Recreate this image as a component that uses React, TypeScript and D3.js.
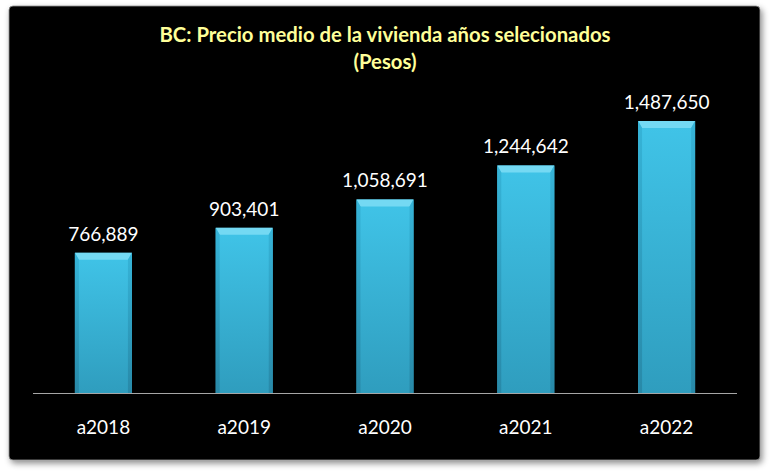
import { useEffect, useRef } from 'react';
import * as d3 from 'd3';

const categories = ['a2018', 'a2019', 'a2020', 'a2021', 'a2022'];
const values = [766889, 903401, 1058691, 1244642, 1487650];
const titleLines = ['BC: Precio medio de la vivienda años selecionados', '(Pesos)'];

const W = 770;
const H = 474;
const FONT = 'Lato, "Open Sans", sans-serif';

export default function App() {
  const svgRef = useRef<SVGSVGElement>(null);

  useEffect(() => {
    if (!svgRef.current) return;
    const svg = d3.select(svgRef.current);
    svg.selectAll('*').remove();

    const defs = svg.append('defs');

    // drop shadow for the chart box
    const filt = defs.append('filter').attr('id', 'shadow')
      .attr('x', '-5%').attr('y', '-5%').attr('width', '110%').attr('height', '112%');
    filt.append('feDropShadow')
      .attr('dx', 2).attr('dy', 3).attr('stdDeviation', 3)
      .attr('flood-color', '#000').attr('flood-opacity', 0.45);

    const barGrad = defs.append('linearGradient').attr('id', 'barGrad')
      .attr('x1', 0).attr('y1', 0).attr('x2', 0).attr('y2', 1);
    barGrad.append('stop').attr('offset', '0%').attr('stop-color', '#40c4e8');
    barGrad.append('stop').attr('offset', '100%').attr('stop-color', '#2f9dbe');

    const sideGrad = defs.append('linearGradient').attr('id', 'sideGrad')
      .attr('x1', 0).attr('y1', 0).attr('x2', 0).attr('y2', 1);
    sideGrad.append('stop').attr('offset', '0%').attr('stop-color', '#36b4d8');
    sideGrad.append('stop').attr('offset', '100%').attr('stop-color', '#2889a8');

    // chart box
    svg.append('rect')
      .attr('x', 9).attr('y', 6)
      .attr('width', 751).attr('height', 454)
      .attr('rx', 4)
      .attr('fill', '#060606')
      .attr('stroke', '#8a8a8a')
      .attr('stroke-width', 0.8)
      .attr('filter', 'url(#shadow)');

    // title
    const title = svg.append('text')
      .attr('text-anchor', 'middle')
      .attr('font-family', FONT)
      .attr('font-weight', 'bold')
      .attr('font-size', 20.3)
      .attr('fill', '#ffff99');
    titleLines.forEach((t, i) => {
      title.append('tspan').attr('x', W / 2).attr('y', 42 + i * 27).text(t);
    });

    const x = d3.scaleBand<string>()
      .domain(categories)
      .range([33, 737])
      .paddingInner(0.595)
      .paddingOuter(0.2975);

    const y = d3.scaleLinear().domain([0, 1600000]).range([393, 100.5]);

    const bw = x.bandwidth();
    const topBevel = 7;
    const sideBevel = 4;

    const g = svg.append('g');
    categories.forEach((c, i) => {
      const x0 = x(c)!;
      const y0 = y(values[i]);
      const y1 = y(0);
      const bar = g.append('g');
      bar.append('rect')
        .attr('x', x0).attr('y', y0)
        .attr('width', bw).attr('height', y1 - y0)
        .attr('fill', 'url(#barGrad)');
      // top bevel
      bar.append('path')
        .attr('d', `M${x0},${y0}L${x0 + bw},${y0}L${x0 + bw - sideBevel},${y0 + topBevel}L${x0 + sideBevel},${y0 + topBevel}Z`)
        .attr('fill', '#74d9f3');
      // side bevels
      bar.append('path')
        .attr('d', `M${x0},${y0}L${x0 + sideBevel},${y0 + topBevel}L${x0 + sideBevel},${y1}L${x0},${y1}Z`)
        .attr('fill', 'url(#sideGrad)');
      bar.append('path')
        .attr('d', `M${x0 + bw},${y0}L${x0 + bw - sideBevel},${y0 + topBevel}L${x0 + bw - sideBevel},${y1}L${x0 + bw},${y1}Z`)
        .attr('fill', 'url(#sideGrad)');

      g.append('text')
        .attr('x', x0 + bw / 2)
        .attr('y', y0 - 12)
        .attr('text-anchor', 'middle')
        .attr('font-family', FONT)
        .attr('font-size', 19)
        .attr('fill', '#ffffff')
        .text(d3.format(',')(values[i]));
    });

    // axis line
    svg.append('line')
      .attr('x1', 33).attr('x2', 737)
      .attr('y1', y(0) + 0.5).attr('y2', y(0) + 0.5)
      .attr('stroke', '#a6a6a6').attr('stroke-width', 1);

    svg.append('g').selectAll('text')
      .data(categories)
      .join('text')
      .attr('x', (d) => x(d)! + bw / 2)
      .attr('y', 434)
      .attr('text-anchor', 'middle')
      .attr('font-family', FONT)
      .attr('font-size', 19)
      .attr('fill', '#ffffff')
      .text((d) => d);
  }, []);

  return (
    <svg
      ref={svgRef}
      width={W}
      height={H}
      viewBox={`0 0 ${W} ${H}`}
      style={{ position: 'absolute', left: 0, top: 0, background: '#fff' }}
    />
  );
}
